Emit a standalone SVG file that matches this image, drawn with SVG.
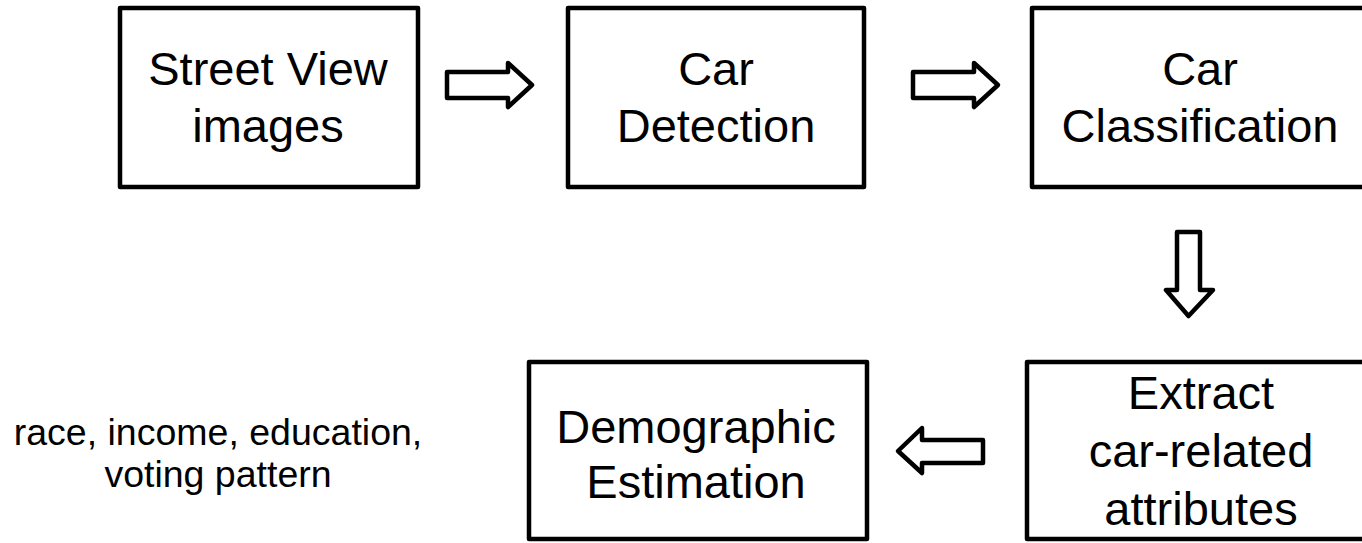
<svg xmlns="http://www.w3.org/2000/svg" width="1362" height="543" viewBox="0 0 1362 543">
<style>
.box{fill:#fff;stroke:#000;stroke-width:4.5;stroke-linejoin:round}
.t{font-family:"Liberation Sans",Arial,sans-serif;font-size:47px;fill:#000;text-anchor:middle}
.s{font-family:"Liberation Sans",Arial,sans-serif;font-size:37.5px;fill:#000;text-anchor:middle}
.arr{fill:#fff;stroke:#000;stroke-width:4.5;stroke-linejoin:round}
</style>
<rect width="1362" height="543" fill="#fff"/>
<g id="street">
<rect class="box" x="120" y="8" width="298" height="179"/>
<text class="t" x="268" y="85">Street View</text>
<text class="t" x="268" y="142">images</text>
</g>
<g id="detection">
<rect class="box" x="568" y="8" width="296" height="179"/>
<text class="t" x="716" y="85">Car</text>
<text class="t" x="716" y="142">Detection</text>
</g>
<g id="classification">
<rect class="box" x="1032" y="8" width="340" height="179"/>
<text class="t" x="1200" y="85">Car</text>
<text class="t" x="1200" y="142">Classification</text>
</g>
<g id="extract">
<rect class="box" x="1027" y="362" width="345" height="177"/>
<text class="t" x="1201" y="409">Extract</text>
<text class="t" x="1201" y="467">car-related</text>
<text class="t" x="1201" y="525">attributes</text>
</g>
<g id="demographic">
<rect class="box" x="529" y="362" width="338" height="177"/>
<text class="t" x="696" y="443">Demographic</text>
<text class="t" x="696" y="498">Estimation</text>
</g>
<g id="note">
<text class="s" x="218" y="445">race, income, education,</text>
<text class="s" x="218" y="487">voting pattern</text>
</g>
<g id="connectors">
<path class="arr" d="M447,72 H508 V63 L532,85 L508,107 V98 H447 Z"/>
<path class="arr" d="M913,72 H974 V63 L998,85 L974,107 V98 H913 Z"/>
<path class="arr" d="M1177,232 H1200 V290 H1213 L1188.5,316 L1166,290 H1177 Z"/>
<path class="arr" d="M983,440 H922 V428 L898,451 L922,473 V463 H983 Z"/>
</g>
</svg>
